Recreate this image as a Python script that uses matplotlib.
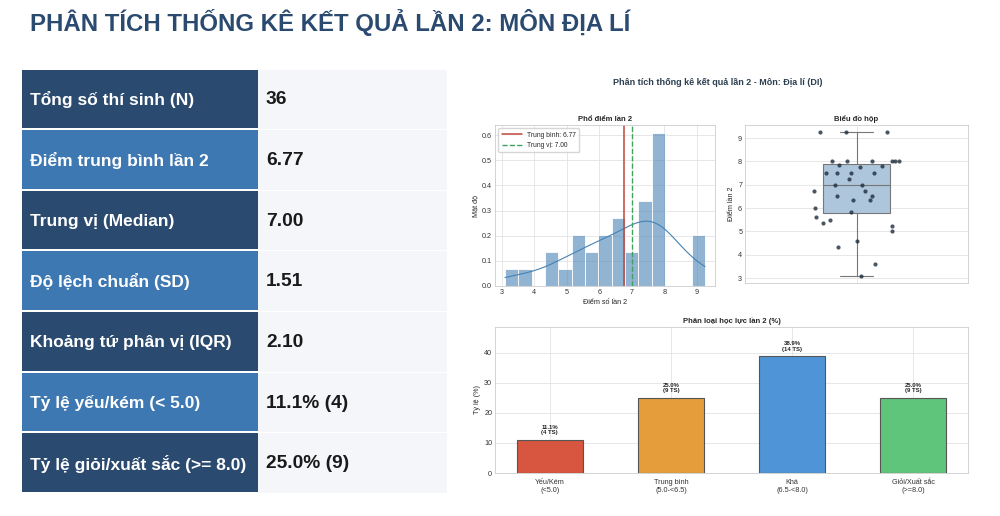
import numpy as np
import matplotlib
matplotlib.use("Agg")
import matplotlib.pyplot as plt
from matplotlib.patches import Rectangle
import seaborn as sns

# diem lan 2 cua 36 thi sinh (doc tu bieu do hop)
diem = [3.1, 3.6, 4.35, 4.6, 5.0, 5.25, 5.35, 5.5, 5.6, 5.85, 6.0, 6.35, 6.35,
        6.5, 6.5, 6.75, 6.75, 7.0, 7.0, 7.25, 7.5, 7.5, 7.5, 7.5, 7.75, 7.8, 7.85,
        8.0, 8.0, 8.0, 8.0, 8.0, 8.0, 9.25, 9.25, 9.25]

chi_so = ["Tổng số thí sinh (N)", "Điểm trung bình lần 2", "Trung vị (Median)",
          "Độ lệch chuẩn (SD)", "Khoảng tứ phân vị (IQR)", "Tỷ lệ yếu/kém (< 5.0)",
          "Tỷ lệ giỏi/xuất sắc (>= 8.0)"]
gia_tri = ["36", "6.77", "7.00", "1.51", "2.10", "11.1% (4)", "25.0% (9)"]

loai = ["Yếu/Kém\n(<5.0)", "Trung bình\n(5.0-<6.5)", "Khá\n(6.5-<8.0)", "Giỏi/Xuất sắc\n(>=8.0)"]
so_ts = [4, 9, 14, 9]
ty_le = [11.1, 25.0, 38.9, 25.0]
mau_loai = ["#d8553f", "#e59d3b", "#4f94d6", "#5fc57a"]

trung_binh = 6.77
trung_vi = 7.00

sns.set_style("whitegrid")
plt.rcParams["font.family"] = ["Liberation Sans", "DejaVu Sans"]
plt.rcParams["axes.edgecolor"] = "#cccccc"
plt.rcParams["grid.color"] = "#dddddd"

W, H = 1000, 516
fig = plt.figure(figsize=(10, 5.16), dpi=100)


def khung(x, y, w, h):
    # pixel (goc tren trai) -> toa do figure
    return [x / W, 1 - (y + h) / H, w / W, h / H]


# nen + bang chi so
bg = fig.add_axes([0, 0, 1, 1])
bg.set_xlim(0, W)
bg.set_ylim(H, 0)
bg.axis("off")

bg.text(30, 22, "PHÂN TÍCH THỐNG KÊ KẾT QUẢ LẦN 2: MÔN ĐỊA LÍ", fontsize=17.3,
        weight="bold", color="#2b4a6f", va="center")

top0 = 69.5
buoc = 60.65
for i in range(len(chi_so)):
    y = top0 + i * buoc
    mau = "#2b4a70" if i % 2 == 0 else "#3e78b2"
    bg.add_patch(Rectangle((22, y), 236, buoc - 2, color=mau, lw=0))
    bg.add_patch(Rectangle((258, y), 189, buoc - 1, color="#f4f6fa", lw=0))
    bg.text(30, y + buoc / 2, chi_so[i], color="white", fontsize=12.5,
            weight="bold", va="center")
    bg.text(266, y + buoc / 2, gia_tri[i], color="#1a1a1a", fontsize=13.8,
            weight="bold", va="center")

fig.text(718 / W, 1 - 82 / H, "Phân tích thống kê kết quả lần 2 - Môn: Địa lí (DI)",
         fontsize=6.5, weight="bold", ha="center", va="center", color="#2c3e50")

fs = 5.2

# pho diem
ax1 = fig.add_axes(khung(495, 125, 220, 161))
sns.histplot(diem, bins=15, stat="density", kde=True, color="steelblue", alpha=0.6,
             edgecolor="white", linewidth=0.6, line_kws={"lw": 0.8}, ax=ax1)
ax1.axvline(trung_binh, color="#c0453b", lw=1.1, label=f"Trung bình: {trung_binh:.2f}")
ax1.axvline(trung_vi, color="#3fa35f", lw=1.0, ls="--", label=f"Trung vị: {trung_vi:.2f}")
ax1.set_yticks(np.arange(0, 0.61, 0.1))
ax1.set_title("Phổ điểm lần 2", fontsize=5.5, weight="bold", pad=3)
ax1.set_xlabel("Điểm số lần 2", fontsize=fs, labelpad=2)
ax1.set_ylabel("Mật độ", fontsize=fs, labelpad=2)
ax1.legend(loc="upper left", fontsize=4.8, handlelength=3, frameon=True,
           borderpad=0.5, labelspacing=0.5)

# bieu do hop
np.random.seed(3)
ax2 = fig.add_axes(khung(745, 125, 223, 158))
sns.boxplot(y=diem, ax=ax2, width=0.3, color="#adc6db", saturation=1,
            linecolor="#777777", linewidth=0.8, fliersize=0)
sns.stripplot(y=diem, ax=ax2, color="#1f2d3d", size=3, jitter=0.2, alpha=0.8)
ax2.set_title("Biểu đồ hộp", fontsize=5.5, weight="bold", pad=3)
ax2.set_ylabel("Điểm lần 2", fontsize=fs, labelpad=2)

# phan loai hoc luc
ax3 = fig.add_axes(khung(495, 327, 473, 146))
x = np.arange(len(loai))
ax3.bar(x, ty_le, width=0.55, color=mau_loai, edgecolor="#555555", linewidth=0.8)
for i in range(len(loai)):
    ax3.text(x[i], ty_le[i] + 1.5, f"{ty_le[i]:.1f}%\n({so_ts[i]} TS)", ha="center",
             va="bottom", fontsize=4.3, weight="bold", color="#222222", linespacing=1.1)
ax3.set_ylim(0, max(ty_le) * 1.25)
ax3.set_xticks(x)
ax3.set_xticklabels(loai)
ax3.set_title("Phân loại học lực lần 2 (%)", fontsize=5.5, weight="bold", pad=3)
ax3.set_ylabel("Tỷ lệ (%)", fontsize=fs, labelpad=2)

for ax in (ax1, ax2, ax3):
    ax.tick_params(labelsize=fs, length=0, pad=2, colors="#333333")
    for s in ax.spines.values():
        s.set_linewidth(0.6)
    ax.grid(lw=0.5)
ax3.tick_params(axis="x", pad=4)

fig.savefig("out.png", dpi=100, facecolor="white")
